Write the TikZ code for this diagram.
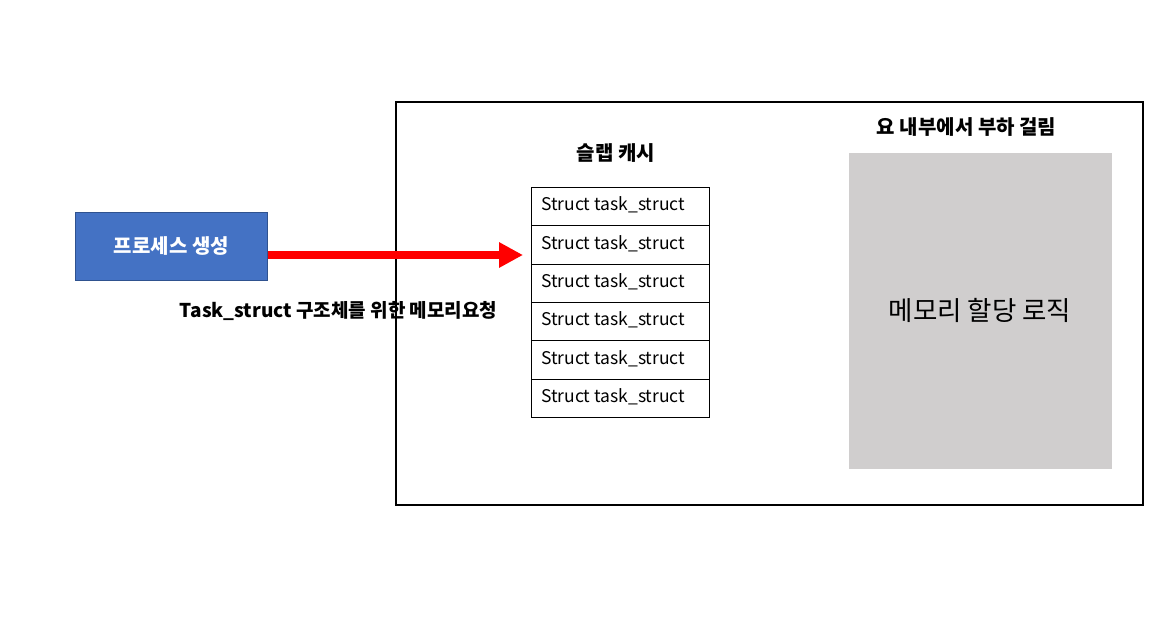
\documentclass[tikz,border=0pt]{standalone}
\usepackage{fontspec}
\setmainfont{Noto Sans CJK KR}
\usetikzlibrary{arrows.meta}
\definecolor{procblue}{HTML}{4472C4}
\definecolor{procedge}{HTML}{2F528F}
\definecolor{logicgray}{HTML}{D0CECE}
\tikzset{
  rowbox/.style={draw=black, line width=1pt, minimum width=178pt, minimum height=38.33pt, inner sep=0pt, anchor=north west, fill=white},
  rowtext/.style={anchor=west, inner sep=0pt, font=\fontsize{17.5}{20}\selectfont},
  boldlabel/.style={font=\fontsize{20}{24}\selectfont\bfseries},
}
\begin{document}
\begin{tikzpicture}[x=1pt,y=-1pt]
\useasboundingbox (0,0) rectangle (1174,625);
\fill[white] (0,0) rectangle (1174,625);
% outer frame
\node[draw=black, line width=2pt, minimum width=747pt, minimum height=403pt, inner sep=0pt, anchor=north west] (frame) at (395,101) {};
% process box
\node[draw=procedge, fill=procblue, line width=0.8pt, minimum width=192pt, minimum height=68pt, inner sep=0pt, anchor=north west, text=white, font=\fontsize{20}{24}\selectfont\bfseries] (proc) at (75,212) {프로세스 생성};
% label under arrow
\node[font=\fontsize{19}{23}\selectfont\bfseries] (req) at (338.5,311) {Task\_struct 구조체를 위한 메모리요청};
% slab cache title
\node[boldlabel] (slabtitle) at (616,153) {슬랩 캐시};
% stack rows
\foreach \i in {0,...,5} {
  \node[rowbox] (row\i) at (531,{187+\i*38.33}) {};
  \node[rowtext] (rowt\i) at ([xshift=10pt,yshift=1.5pt]row\i.west) {Struct task\_struct};
}
% right title
\node[boldlabel] (loadtitle) at (966.5,127) {요 내부에서 부하 걸림};
% gray logic box
\node[fill=logicgray, minimum width=263pt, minimum height=316pt, inner sep=0pt, anchor=north west] (logic) at (849,153) {};
\node[font=\fontsize{26.5}{30}\selectfont] (logictext) at (980,310) {메모리 할당 로직};
% arrow
\coordinate (tip) at (523,255);
\draw[red, line width=8pt, -{Triangle[length=24pt,width=24pt]}] (proc.east |- tip) -- (tip);
\end{tikzpicture}
\end{document}
